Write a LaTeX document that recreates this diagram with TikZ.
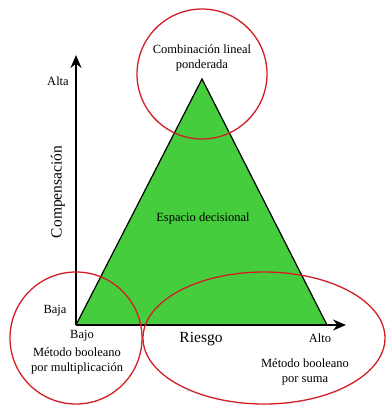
\documentclass[tikz,border=0pt]{standalone}
\usepackage{fontspec}
\setmainfont{Liberation Serif}
\usetikzlibrary{arrows.meta}
\definecolor{tgreen}{RGB}{70,205,62}
\definecolor{cred}{RGB}{210,30,35}
\begin{document}
\begin{tikzpicture}[x=1pt,y=-1pt,
  lbl/.style={font=\fontsize{12.5}{15.5}\selectfont, align=center, inner sep=0pt},
  big/.style={font=\fontsize{15.5}{18}\selectfont, inner sep=0pt},
  axis/.style={line width=1.4pt, -{Stealth[length=13pt,width=11pt]}},
  ring/.style={draw=cred, line width=1.3pt}]
\useasboundingbox (0,0) rectangle (388,407);
\coordinate (O) at (76,325);
\coordinate (ytop) at (76,55);
\coordinate (xend) at (346,325);
\coordinate (A) at (202,79);
\coordinate (R) at (327,325);
\fill[tgreen] (O) -- (A) -- (R) -- cycle;
\draw[line width=1.2pt] (O) -- (A) -- (R);
\draw[axis] (O) -- (ytop);
\draw[axis] (O) -- (xend);
\draw[ring] (202,74) circle[radius=65pt];
\draw[ring] (76,338) circle[radius=66pt];
\draw[ring] (264,338) ellipse[x radius=121pt, y radius=66pt];
\node[lbl] (comb) at (202,58) {Combinación lineal\\ponderada};
\node[lbl] (alta) at (58,81) {Alta};
\node[big, rotate=90] (comp) at (58,192) {Compensación};
\node[lbl] (esp) at (203,218) {Espacio decisional};
\node[lbl] (baja) at (55,311) {Baja};
\node[lbl] (bajo) at (82,336) {Bajo};
\node[lbl] (mbm) at (77,361) {Método booleano\\por multiplicación};
\node[big] (ries) at (201,339) {Riesgo};
\node[lbl] (alto) at (320,338) {Alto};
\node[lbl] (mbs) at (305,372) {Método booleano\\por suma};
\end{tikzpicture}
\end{document}
